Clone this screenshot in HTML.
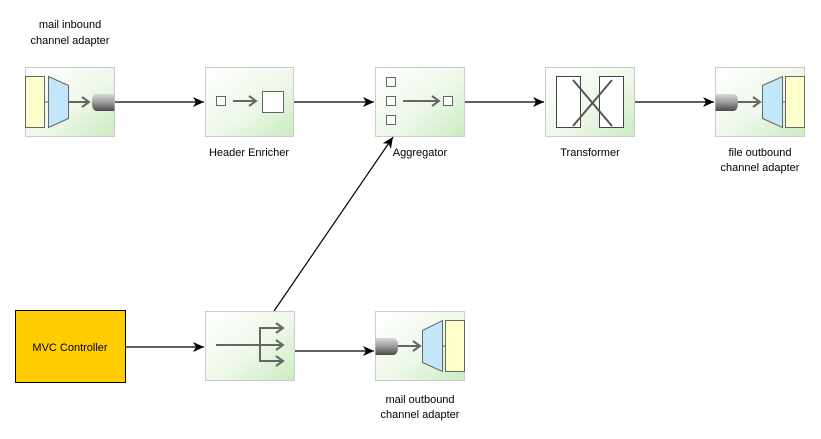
<!DOCTYPE html>
<html><head><meta charset="utf-8"><style>
html,body{margin:0;padding:0;background:#fff;}
svg{display:block;}
text{font-family:"Liberation Sans",Arial,sans-serif;font-size:11px;fill:#000;}
</style></head><body>
<svg width="821" height="439" viewBox="0 0 821 439" xmlns="http://www.w3.org/2000/svg">
<defs>
<linearGradient id="g" x1="0" y1="0" x2="1" y2="1">
<stop offset="0" stop-color="#ffffff"/><stop offset="0.55" stop-color="#eef8ea"/><stop offset="1" stop-color="#c9ecc0"/>
</linearGradient>
<linearGradient id="cyl" x1="0" y1="0" x2="0" y2="1">
<stop offset="0" stop-color="#d8d8d8"/><stop offset="0.5" stop-color="#9a9a9a"/><stop offset="1" stop-color="#4a4a4a"/>
</linearGradient>
<marker id="a" markerWidth="12" markerHeight="10" refX="11" refY="5" orient="auto" markerUnits="userSpaceOnUse">
<path d="M0,0 L11,5 L0,10 L3,5 Z" fill="#000"/></marker>
<marker id="ga" markerWidth="10" markerHeight="12" refX="8" refY="6" orient="auto" markerUnits="userSpaceOnUse">
<path d="M1,1 L8,6 L1,11" fill="none" stroke="#666" stroke-width="2"/></marker>
</defs>

<!-- boxes -->
<g stroke="#cccccc" stroke-width="1" fill="url(#g)">
<rect x="25.5" y="67.5" width="89" height="69"/>
<rect x="205.5" y="67.5" width="88" height="69"/>
<rect x="375.5" y="67.5" width="89" height="69"/>
<rect x="545.5" y="67.5" width="89" height="69"/>
<rect x="715.5" y="67.5" width="89" height="69"/>
<rect x="205.5" y="311.5" width="89" height="69"/>
<rect x="375.5" y="311.5" width="89" height="69"/>
</g>

<!-- mail inbound -->
<rect x="25.5" y="76.5" width="19" height="51" fill="#ffffcc" stroke="#666"/>
<line x1="44" y1="102" x2="48" y2="102" stroke="#666"/>
<polygon points="48.5,76.5 68.5,85.5 68.5,118.5 48.5,127.5" fill="#c2e6fa" stroke="#666"/>
<line x1="68" y1="102" x2="89" y2="102" stroke="#666" stroke-width="2" marker-end="url(#ga)"/>
<path d="M114.5,94 L97,94 Q92,94 92,102.5 Q92,111 97,111 L114.5,111 Z" fill="url(#cyl)"/>

<!-- header enricher -->
<rect x="216.5" y="96.5" width="9" height="9" fill="#fff" stroke="#666"/>
<line x1="233" y1="101" x2="256" y2="101" stroke="#666" stroke-width="2" marker-end="url(#ga)"/>
<rect x="262.5" y="91.5" width="21" height="21" fill="#fff" stroke="#666"/>

<!-- aggregator -->
<g fill="#fff" stroke="#666">
<rect x="386.5" y="77.5" width="9" height="9"/>
<rect x="386.5" y="96.5" width="9" height="9"/>
<rect x="386.5" y="115.5" width="9" height="9"/>
<rect x="443.5" y="96.5" width="9" height="9"/>
</g>
<line x1="403" y1="101" x2="439" y2="101" stroke="#666" stroke-width="2" marker-end="url(#ga)"/>

<!-- transformer -->
<rect x="556.5" y="76.5" width="24" height="51" fill="#fff" stroke="#444"/>
<rect x="599.5" y="76.5" width="24" height="51" fill="#fff" stroke="#444"/>
<line x1="573" y1="80" x2="612" y2="126" stroke="#555" stroke-width="2"/>
<line x1="612" y1="80" x2="573" y2="126" stroke="#555" stroke-width="2"/>

<!-- file outbound -->
<path d="M715.5,94 L733,94 Q738,94 738,102.5 Q738,111 733,111 L715.5,111 Z" fill="url(#cyl)"/>
<line x1="738" y1="102" x2="760" y2="102" stroke="#666" stroke-width="2" marker-end="url(#ga)"/>
<polygon points="762.5,85.5 782.5,76.5 782.5,127.5 762.5,118.5" fill="#c2e6fa" stroke="#666"/>
<line x1="782" y1="102" x2="786" y2="102" stroke="#666"/>
<rect x="785.5" y="76.5" width="19" height="51" fill="#ffffcc" stroke="#666"/>

<!-- router -->
<line x1="216" y1="345" x2="283" y2="345" stroke="#666" stroke-width="2" marker-end="url(#ga)"/>
<polyline points="283,328 260,328 260,361 283,361" fill="none" stroke="#666" stroke-width="2"/>
<line x1="270" y1="328" x2="283" y2="328" stroke="#666" stroke-width="2" marker-end="url(#ga)"/>
<line x1="270" y1="361" x2="283" y2="361" stroke="#666" stroke-width="2" marker-end="url(#ga)"/>

<!-- mail outbound -->
<path d="M375.5,338 L393,338 Q398,338 398,346.5 Q398,355 393,355 L375.5,355 Z" fill="url(#cyl)"/>
<line x1="398" y1="346" x2="420" y2="346" stroke="#666" stroke-width="2" marker-end="url(#ga)"/>
<polygon points="422.5,330.5 442.5,320.5 442.5,371.5 422.5,362.5" fill="#c2e6fa" stroke="#666"/>
<line x1="442" y1="346" x2="446" y2="346" stroke="#666"/>
<rect x="445.5" y="320.5" width="19" height="51" fill="#ffffcc" stroke="#666"/>

<!-- MVC -->
<rect x="15.5" y="310.5" width="110" height="72" fill="#ffcc00" stroke="#000"/>
<text x="70" y="351" text-anchor="middle">MVC Controller</text>

<!-- connectors -->
<g stroke="#000" stroke-width="1.2" fill="none">
<line x1="115" y1="102" x2="204" y2="102" marker-end="url(#a)"/>
<line x1="294" y1="102" x2="374" y2="102" marker-end="url(#a)"/>
<line x1="465" y1="102" x2="544" y2="102" marker-end="url(#a)"/>
<line x1="635" y1="102" x2="714" y2="102" marker-end="url(#a)"/>
<line x1="126" y1="347" x2="204" y2="347" marker-end="url(#a)"/>
<line x1="295" y1="351" x2="374" y2="351" marker-end="url(#a)"/>
<line x1="274" y1="311" x2="393" y2="137" marker-end="url(#a)"/>
</g>

<!-- labels -->
<text x="70" y="28" text-anchor="middle">mail inbound</text>
<text x="70" y="44" text-anchor="middle">channel adapter</text>
<text x="249" y="156" text-anchor="middle">Header Enricher</text>
<text x="420" y="156" text-anchor="middle">Aggregator</text>
<text x="590" y="156" text-anchor="middle">Transformer</text>
<text x="760" y="156" text-anchor="middle">file outbound</text>
<text x="760" y="171" text-anchor="middle">channel adapter</text>
<text x="420" y="403" text-anchor="middle">mail outbound</text>
<text x="420" y="418" text-anchor="middle">channel adapter</text>
</svg>
</body></html>
